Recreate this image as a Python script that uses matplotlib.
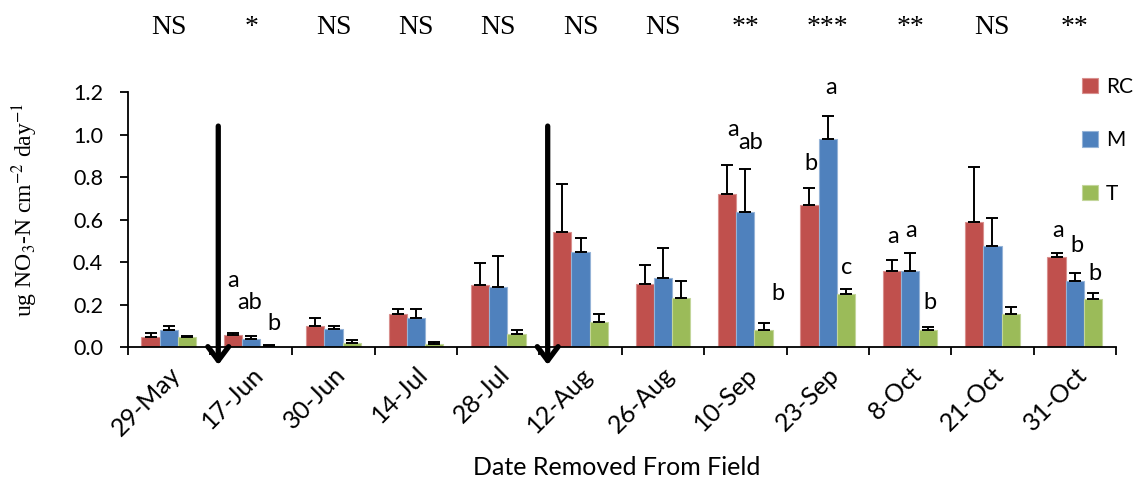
import numpy as np
import matplotlib.pyplot as plt
from matplotlib.ticker import FormatStrFormatter

plt.rcParams['font.family'] = ['Lato', 'DejaVu Sans']
plt.rcParams['mathtext.fontset'] = 'stix'

# Nitrate flux per treatment, mean and standard error
dates = ['29-May', '17-Jun', '30-Jun', '14-Jul', '28-Jul', '12-Aug',
         '26-Aug', '10-Sep', '23-Sep', '8-Oct', '21-Oct', '31-Oct']
rc_mean = [0.047, 0.058, 0.100, 0.157, 0.293, 0.541, 0.298, 0.723, 0.668, 0.358, 0.591, 0.424]
rc_se = [0.019, 0.011, 0.036, 0.025, 0.102, 0.227, 0.091, 0.136, 0.080, 0.053, 0.259, 0.021]
m_mean = [0.081, 0.041, 0.088, 0.136, 0.284, 0.447, 0.325, 0.637, 0.979, 0.361, 0.478, 0.312]
m_se = [0.019, 0.012, 0.012, 0.046, 0.146, 0.069, 0.144, 0.201, 0.109, 0.084, 0.132, 0.039]
t_mean = [0.047, 0.008, 0.022, 0.014, 0.063, 0.118, 0.230, 0.080, 0.252, 0.081, 0.157, 0.226]
t_se = [0.006, 0.004, 0.012, 0.010, 0.018, 0.039, 0.083, 0.033, 0.021, 0.016, 0.031, 0.028]

# significance of treatment effect on each date
signif = ['NS', '*', 'NS', 'NS', 'NS', 'NS', 'NS', '**', '***', '**', 'NS', '**']

# mean separation letters: (date index, bar index, letter, x nudge, y)
letters = [
    (1, 0, 'a', 0.00, 0.285), (1, 1, 'ab', -0.015, 0.179), (1, 2, 'b', 0.055, 0.081),
    (7, 0, 'a', 0.07, 0.994), (7, 1, 'ab', 0.065, 0.932), (7, 2, 'b', 0.17, 0.223),
    (8, 0, 'b', 0.02, 0.834), (8, 1, 'a', 0.035, 1.192), (8, 2, 'c', 0.01, 0.345),
    (9, 0, 'a', 0.02, 0.492), (9, 1, 'a', 0.015, 0.521), (9, 2, 'b', 0.02, 0.179),
    (11, 0, 'a', 0.02, 0.521), (11, 1, 'b', 0.025, 0.450), (11, 2, 'b', 0.025, 0.317),
]

# dates of field events marked with arrows
arrow_x = [0.6, 4.6]

series = [('RC', rc_mean, rc_se, '#C0504D', '#D9908E'),
          ('M', m_mean, m_se, '#4F81BD', '#95B3D7'),
          ('T', t_mean, t_se, '#9BBB59', '#C3D69B')]

x = np.arange(len(dates))
w = 0.222

fig = plt.figure(figsize=(11.42, 4.86), dpi=100)
ax = fig.add_axes([0.1118, 0.2854, 0.8654, 0.5247])

for i, (name, mean, se, col, edge) in enumerate(series):
    pos = x + (i - 1) * w
    ax.bar(pos, mean, width=w, color=col, edgecolor=edge, linewidth=0.8, label=name, zorder=2)
    ax.errorbar(pos, mean, yerr=[np.zeros(len(se)), se], fmt='none', ecolor='black',
                elinewidth=1.4, capsize=4, capthick=1.4, zorder=3)

for gi, bi, txt, dx, yy in letters:
    ax.text(gi + (bi - 1) * w + dx, yy, txt, ha='center', va='baseline', fontsize=17)

for gi, s in enumerate(signif):
    ax.text(gi, 1.474, s, ha='center', va='baseline', fontsize=20,
            family='Liberation Serif', clip_on=False)

for xa in arrow_x:
    ax.annotate('', xy=(xa, -0.083), xytext=(xa, 1.041),
                arrowprops=dict(arrowstyle='->,head_length=1.0,head_width=0.75',
                                lw=3.8, color='black', shrinkA=0, shrinkB=0),
                annotation_clip=False, zorder=5)

ax.set_xlim(-0.5, len(dates) - 0.5)
ax.set_ylim(0, 1.2)
ax.set_yticks(np.arange(0, 1.21, 0.2))
ax.yaxis.set_major_formatter(FormatStrFormatter('%.1f'))

# boundary ticks between dates, labels centred under each group
ax.set_xticks(np.arange(-0.5, len(dates), 1.0))
ax.set_xticklabels([])
ax.set_xticks(x, minor=True)
ax.set_xticklabels(dates, minor=True, rotation=45, ha='right', va='top',
                   rotation_mode='anchor', fontsize=18)
ax.tick_params(axis='x', which='minor', length=0, pad=11)
ax.tick_params(axis='x', which='major', length=5.8, width=1.3, direction='out')
ax.tick_params(axis='y', length=5.8, width=1.3, direction='out', labelsize=15.5, pad=12)

for side in ['top', 'right']:
    ax.spines[side].set_visible(False)
for side in ['left', 'bottom']:
    ax.spines[side].set_linewidth(1.3)

fig.text(25 / 1142, 1 - 210 / 486, 'ug NO$_3$-N cm$^{-2}$ day$^{-1}$', family='Liberation Serif',
         fontsize=17, rotation=90, ha='center', va='center')
fig.text(617 / 1142, 1 - 467 / 486, 'Date Removed From Field', fontsize=18,
         ha='center', va='center')

fig.legend(loc='upper left', bbox_to_anchor=(0.9475, 0.8416), frameon=False, fontsize=15,
           borderpad=0, borderaxespad=0, handlelength=0.75, handleheight=0.75,
           handletextpad=0.4, labelspacing=1.6)

plt.savefig('out.png', dpi=100)
